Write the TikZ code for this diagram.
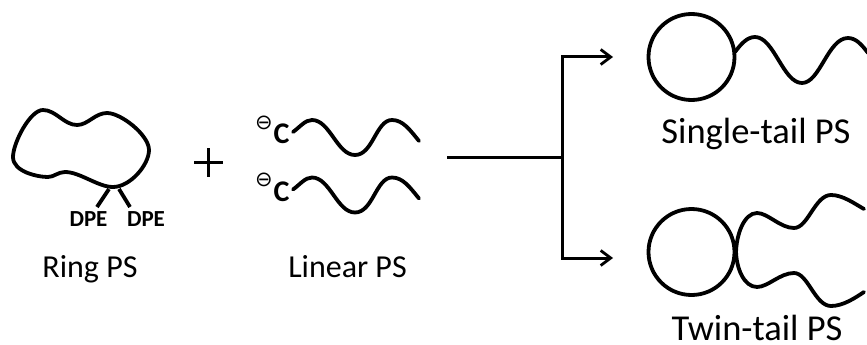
\documentclass[tikz,border=0pt]{standalone}
\usepackage{fontspec}
\setmainfont{Carlito}
\newfontfamily\symfont{DejaVu Sans}
\usetikzlibrary{arrows.meta}
\tikzset{
  x=1pt,y=-1pt,
  chain/.style={line width=3.8pt,line cap=round,line join=round},
  ringc/.style={circle,draw,line width=3.8pt,minimum size=86pt,inner sep=0pt},
  conn/.style={line width=3pt,line join=miter},
  arr/.style={conn,-{Straight Barb[length=10pt,width=15pt,line width=2.8pt]}},
  lab/.style={font=\fontsize{32}{34}\selectfont,inner sep=0pt,anchor=base},
  labb/.style={font=\fontsize{36.5}{38}\selectfont,inner sep=0pt,anchor=base},
  dpe/.style={font=\bfseries\fontsize{23}{25}\selectfont,inner sep=0pt,anchor=base},
  carb/.style={font=\bfseries\fontsize{30}{32}\selectfont,inner sep=0pt,anchor=base},
  chg/.style={font=\symfont\fontsize{21}{23}\selectfont,inner sep=0pt,anchor=center}
}
\begin{document}
\begin{tikzpicture}
\useasboundingbox (0,0) rectangle (867,345);
% ring
\draw[chain] (43,110) .. controls (56,110) and (64,125) .. (77,125) .. controls (88,125) and (95,113) .. (107,113) .. controls (121,113) and (149,135) .. (149,150) .. controls (149,165) and (130,187) .. (113,187) .. controls (98,187) and (80,172) .. (65,172) .. controls (58,172) and (54,177) .. (48,177) .. controls (38,177) and (13,172) .. (13,157) .. controls (13,143) and (30,110) .. (43,110) -- cycle;
\coordinate (ra) at (109,189); \coordinate (rb) at (119,189);
\node[dpe] (d1) at (88.5,226) {DPE};
\node[dpe] (d2) at (146,226) {DPE};
\coordinate (da) at (97,207); \coordinate (db) at (130,207);
\draw[chain,line cap=butt] (ra) -- (da);
\draw[chain,line cap=butt] (rb) -- (db);
\node[lab] (ringlab) at (90,277) {Ring PS};
% plus
\node[inner sep=0pt] (plus) at (208,162) {};
\draw[line width=3pt] (194,162) -- (223,162);
\draw[line width=3pt] (208,148) -- (208,177);
% linear chains
\node[chg] (m1) at (264,123) {⊖};
\node[carb] (c1) at (281.5,143) {C};
\node[chg] (m2) at (264,180) {⊖};
\node[carb] (c2) at (281.5,201) {C};
\draw[chain] (293,132) .. controls (300,127) and (305,120) .. (312,120) .. controls (330,120) and (337,155) .. (355,155) .. controls (373,155) and (376,120) .. (392,120) .. controls (403,120) and (410,130) .. (419,141);
\begin{scope}[yshift=-57.5pt]
\draw[chain] (293,132) .. controls (300,127) and (305,120) .. (312,120) .. controls (330,120) and (337,155) .. (355,155) .. controls (373,155) and (376,120) .. (392,120) .. controls (403,120) and (410,130) .. (419,141);
\end{scope}
\node[lab] (linlab) at (347.5,277) {Linear PS};
% arrows
\coordinate (start) at (447,157);
\coordinate (junc) at (562,157);
\coordinate (up) at (562,57);
\coordinate (dn) at (562,258);
\coordinate (upe) at (613,57);
\coordinate (dne) at (613,258);
\draw[conn] (start) -- (junc);
\draw[arr] (junc) -- (up) -- (upe);
\draw[arr] (junc) -- (dn) -- (dne);
% products
\node[ringc] (r1) at (691.5,57) {};
\draw[chain] (735,52) .. controls (741,44) and (747,37) .. (755,37) .. controls (774,37) and (783,83) .. (802,83) .. controls (820,83) and (828,38) .. (848,38) .. controls (856,38) and (862,45) .. (868,53);
\node[labb] (slab) at (756,143) {Single-tail PS};
\node[ringc] (r2) at (691.5,252) {};
\draw[chain] (736,254) .. controls (736,235) and (744,213) .. (757,213) .. controls (768,213) and (780,228) .. (794,228) .. controls (808,228) and (815,195) .. (831,195) .. controls (843,195) and (855,204) .. (864,209);
\draw[chain] (736,250) .. controls (736,268) and (744,287) .. (757,287) .. controls (768,287) and (780,273) .. (794,273) .. controls (808,273) and (815,306) .. (831,306) .. controls (843,306) and (855,298) .. (864,292);
\node[labb] (tlab) at (757,340) {Twin-tail PS};
\end{tikzpicture}
\end{document}
